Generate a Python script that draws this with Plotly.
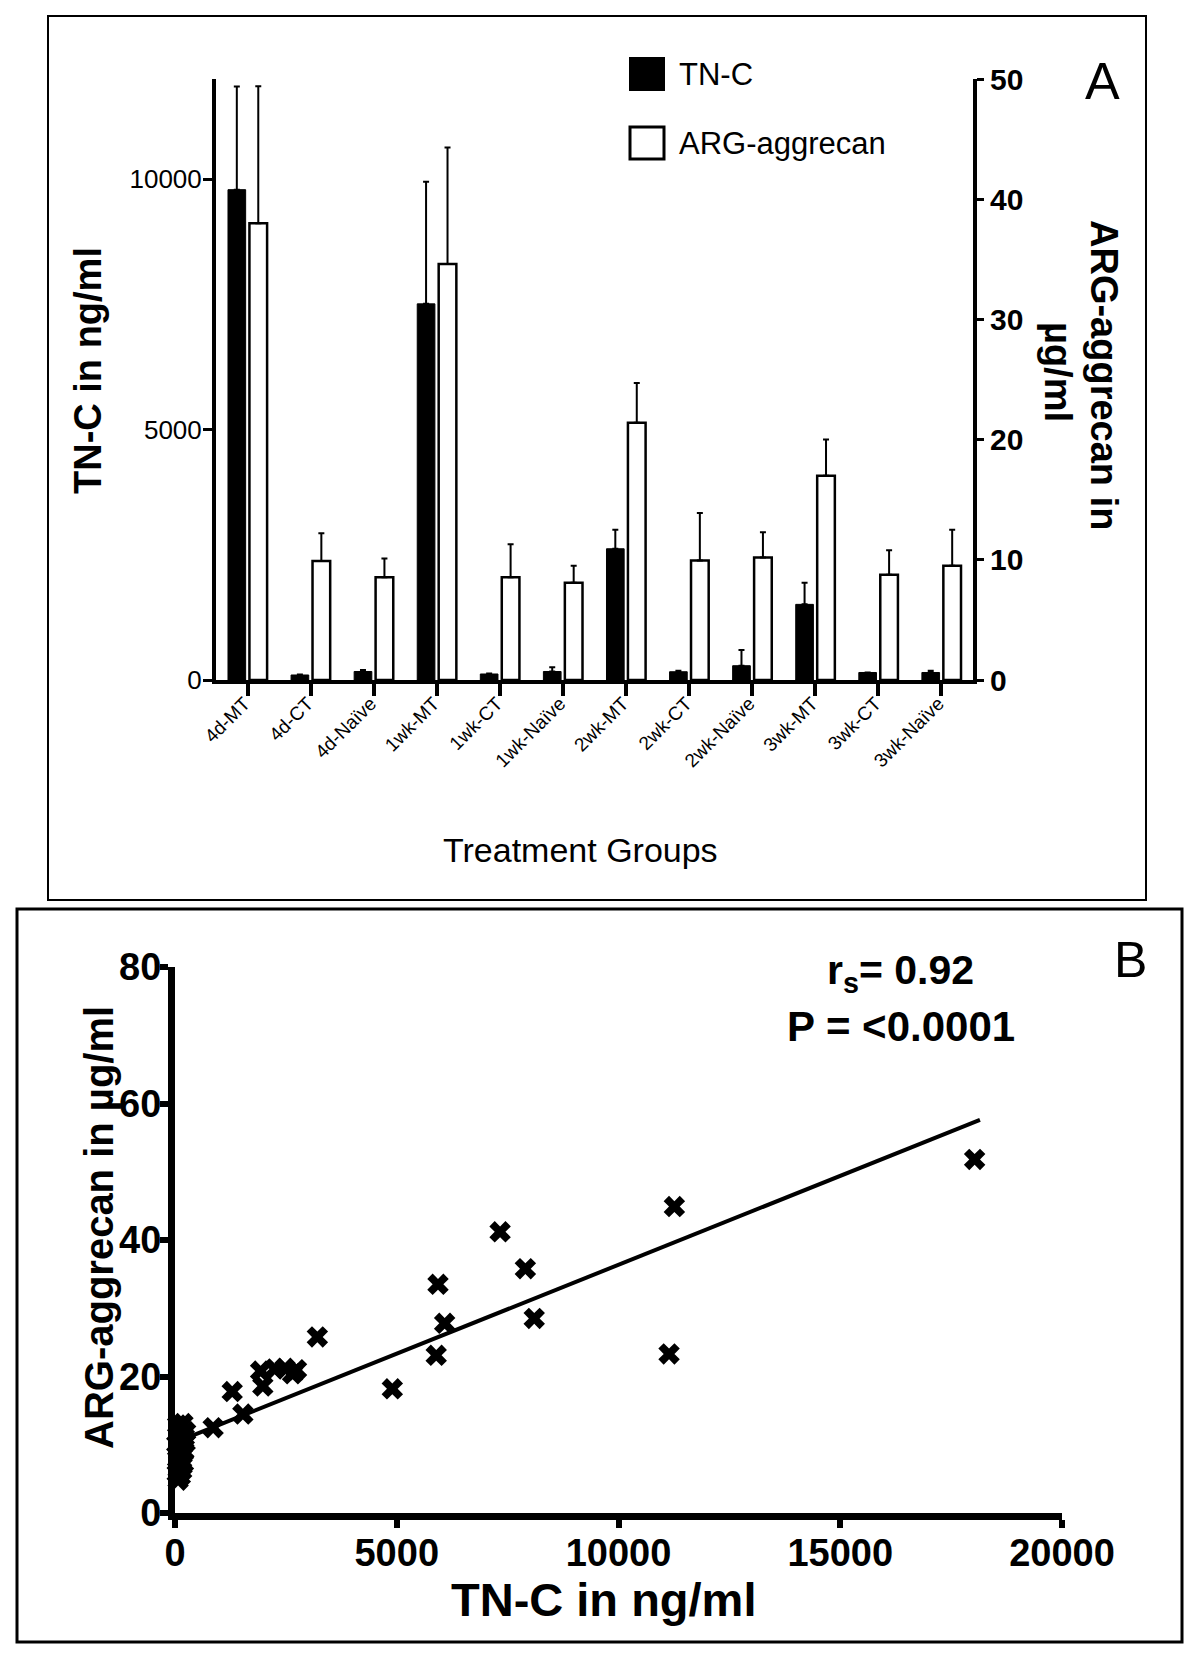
import plotly.graph_objects as go

# ---------------- Panel A data ----------------
groups = ["4d-MT", "4d-CT", "4d-Naïve", "1wk-MT", "1wk-CT", "1wk-Naïve",
          "2wk-MT", "2wk-CT", "2wk-Naïve", "3wk-MT", "3wk-CT", "3wk-Naïve"]
tnc_mean = [9790, 100, 170, 7510, 120, 170, 2620, 165, 285, 1510, 150, 150]
tnc_err = [2060, 10, 30, 2440, 10, 85, 380, 20, 315, 430, 0, 35]
arg_mean = [38.0, 9.9, 8.55, 34.6, 8.55, 8.1, 21.4, 9.95, 10.2, 17.0, 8.75, 9.5]
arg_err = [11.4, 2.3, 1.55, 9.7, 2.75, 1.4, 3.3, 3.95, 2.1, 3.0, 2.05, 3.0]
tnc_ticks = [0, 5000, 10000]
arg_ticks = [0, 10, 20, 30, 40, 50]

# ---------------- Panel B data ----------------
tnc_scatter = [18030, 11260, 11140, 7330, 7900, 8100, 5930, 6080, 5890, 4900,
               3210, 1290, 1530, 860,
               1930, 1980, 2250, 2480, 2650, 2740,
               60, 120, 180, 240, 90, 150, 210, 40, 110, 170, 230,
               80, 140, 200, 60, 130, 190, 100, 160, 50, 120, 70, 150]
arg_scatter = [51.8, 44.9, 23.3, 41.2, 35.8, 28.5, 33.5, 27.8, 23.1, 18.2,
               25.8, 17.8, 14.5, 12.5,
               20.8, 18.6, 21.1, 21.2, 20.4, 21.0,
               12.9, 12.6, 13.1, 11.9, 11.3, 10.6, 11.1, 10.1, 9.6, 9.9, 10.3,
               8.9, 8.6, 9.1, 7.9, 7.6, 7.3, 6.6, 6.9, 5.8, 5.4, 4.8, 6.2]
fit_x = [50, 18150]
fit_y = [10.45, 57.6]
b_xticks = [0, 5000, 10000, 15000, 20000]
b_yticks = [0, 20, 40, 60, 80]

W, H = 1200, 1660
OFF = 8  # page body margin
FONT = "Liberation Sans, Arial, sans-serif"


def px(x):
    return (x - OFF) / W


def py(y):
    return 1 - (y - OFF) / H


fig = go.Figure()

# Panel A bars
fig.add_trace(go.Bar(
    x=list(range(len(groups))), y=tnc_mean, name="TN-C",
    width=0.28, offset=-0.31,
    marker=dict(color="black", line=dict(color="black", width=1)),
    error_y=dict(type="data", array=tnc_err, arrayminus=[0] * len(groups),
                 symmetric=False, color="black", thickness=2, width=3),
    xaxis="x", yaxis="y", showlegend=False))
fig.add_trace(go.Bar(
    x=list(range(len(groups))), y=arg_mean, name="ARG-aggrecan",
    width=0.28, offset=0.03,
    marker=dict(color="white", line=dict(color="black", width=2.5)),
    error_y=dict(type="data", array=arg_err, arrayminus=[0] * len(groups),
                 symmetric=False, color="black", thickness=2, width=3),
    xaxis="x", yaxis="y2", showlegend=False))

# Panel B scatter + fit
fig.add_trace(go.Scatter(
    x=fit_x, y=fit_y, mode="lines", line=dict(color="black", width=4),
    xaxis="x3", yaxis="y3", showlegend=False, cliponaxis=False))
fig.add_trace(go.Scatter(
    x=tnc_scatter, y=arg_scatter, mode="markers",
    marker=dict(symbol="x", size=19, color="black", line=dict(width=0)),
    xaxis="x3", yaxis="y3", showlegend=False, cliponaxis=False))

fig.update_layout(
    template="none",
    width=W, height=H, margin=dict(l=0, r=0, t=0, b=0, autoexpand=False),
    paper_bgcolor="white", plot_bgcolor="white", barmode="overlay",
    xaxis=dict(domain=[px(216), px(973)], range=[-0.5, 11.5], anchor="y",
               automargin=False,
               tickmode="array", tickvals=list(range(len(groups))), ticktext=groups,
               tickangle=-45, tickfont=dict(family=FONT, size=19, color="black"),
               ticklabelstandoff=-11, ticklabelshift=-3,
               showline=True, linecolor="black", linewidth=4,
               ticks="outside", ticklen=12, tickwidth=4, tickcolor="black",
               showgrid=False, zeroline=False),
    yaxis=dict(domain=[py(680), py(79)], range=[0, 12000], anchor="x",
               automargin=False,
               tickmode="array", tickvals=tnc_ticks, ticktext=[str(v) for v in tnc_ticks],
               tickfont=dict(family=FONT, size=26, color="black"),
               ticklabelstandoff=-4,
               showline=True, linecolor="black", linewidth=4,
               ticks="outside", ticklen=9, tickwidth=3, tickcolor="black",
               showgrid=False, zeroline=False),
    yaxis2=dict(range=[0, 50], overlaying="y", side="right", anchor="x",
                automargin=False,
                tickmode="array", tickvals=arg_ticks, ticktext=[str(v) for v in arg_ticks],
                tickfont=dict(family=FONT, size=30, color="black", weight="bold"),
                showline=True, linecolor="black", linewidth=4,
                ticks="outside", ticklen=7, tickwidth=3, tickcolor="black",
                showgrid=False, zeroline=False),
    xaxis3=dict(domain=[px(175), px(1062)], range=[0, 20000], anchor="y3",
                automargin=False,
                tickmode="array", tickvals=b_xticks, ticktext=[str(v) for v in b_xticks],
                tickfont=dict(family=FONT, size=38, color="black", weight="bold"),
                ticklabelstandoff=-8,
                showline=True, linecolor="black", linewidth=7,
                ticks="outside", ticklen=8, tickwidth=6, tickcolor="black",
                showgrid=False, zeroline=False),
    yaxis3=dict(domain=[py(1513), py(967)], range=[0, 80], anchor="x3",
                automargin=False,
                tickmode="array", tickvals=b_yticks, ticktext=[str(v) for v in b_yticks],
                tickfont=dict(family=FONT, size=38, color="black", weight="bold"),
                ticklabelstandoff=-9,
                showline=True, linecolor="black", linewidth=7,
                ticks="outside", ticklen=8, tickwidth=6, tickcolor="black",
                showgrid=False, zeroline=False),
)

shapes = [
    # panel frames
    dict(type="rect", xref="paper", yref="paper", x0=px(48), x1=px(1146),
         y0=py(900), y1=py(16), line=dict(color="black", width=2)),
    dict(type="rect", xref="paper", yref="paper", x0=px(17), x1=px(1182),
         y0=py(1642), y1=py(909), line=dict(color="black", width=3)),
    # legend swatches
    dict(type="rect", xref="paper", yref="paper", x0=px(630), x1=px(664),
         y0=py(90), y1=py(58), fillcolor="black", line=dict(color="black", width=2)),
    dict(type="rect", xref="paper", yref="paper", x0=px(630), x1=px(664),
         y0=py(159), y1=py(127), fillcolor="white", line=dict(color="black", width=3)),
]
fig.update_layout(shapes=shapes)


def ann(text, x, y, size, bold=False, angle=0, xanchor="center", yanchor="middle", align="center"):
    return dict(text=text, x=px(x), y=py(y), xref="paper", yref="paper",
                showarrow=False, textangle=angle, xanchor=xanchor, yanchor=yanchor,
                align=align,
                font=dict(family=FONT, size=size, color="black",
                          weight="bold" if bold else "normal"))


annotations = [
    ann("TN-C", 677, 74, 31, xanchor="left"),
    ann("ARG-aggrecan", 677, 143, 31, xanchor="left"),
    ann("A", 1102, 81, 52),
    ann("TN-C in ng/ml", 88, 371, 38, bold=True, angle=-90),
    ann("ARG-aggrecan in", 1104, 375, 38, bold=True, angle=90),
    ann("µg/ml", 1058, 372, 38, bold=True, angle=90),
    ann("Treatment Groups", 580, 850, 34),
    ann("r<sub>s</sub>= 0.92", 900, 973, 41, bold=True),
    ann("P = <0.0001", 901, 1026, 42, bold=True),
    ann("B", 1130, 960, 50),
    ann("TN-C in ng/ml", 603, 1599, 47, bold=True),
    ann("ARG-aggrecan in µg/ml", 99, 1228, 40, bold=True, angle=-90),
]
fig.update_layout(annotations=annotations)

fig.write_html("out.html")
